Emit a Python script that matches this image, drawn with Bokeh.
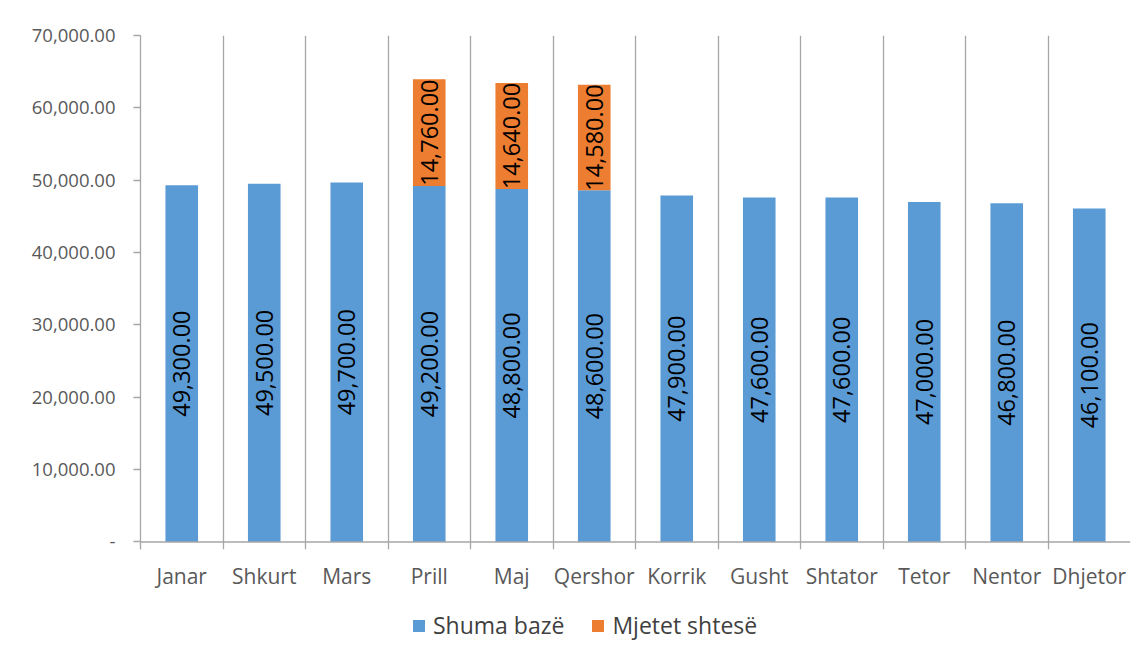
import math
from bokeh.plotting import figure
from bokeh.layouts import column
from bokeh.models import (Range1d, FixedTicker, NumeralTickFormatter, Span, Legend, LegendItem,
                          ColumnDataSource, LinearAxis, Grid)
from bokeh.core.properties import value
from bokeh.embed import file_html
from bokeh.resources import INLINE

months = ["Janar", "Shkurt", "Mars", "Prill", "Maj", "Qershor", "Korrik", "Gusht",
          "Shtator", "Tetor", "Nentor", "Dhjetor"]
shuma_baze = [49300, 49500, 49700, 49200, 48800, 48600, 47900, 47600, 47600, 47000, 46800, 46100]
mjetet_shtese = [0, 0, 0, 14760, 14640, 14580, 0, 0, 0, 0, 0, 0]
y_ticks = [0, 10000, 20000, 30000, 40000, 50000, 60000, 70000]
series_names = ["Shuma bazë", "Mjetet shtesë"]
colors = ["#5b9bd5", "#ed7d31"]

FONT = "Open Sans"
xpos = list(range(1, len(months) + 1))

p = figure(width=1140, height=600, output_backend="svg", toolbar_location=None,
           x_range=Range1d(0.5, len(months) + 0.5), y_range=Range1d(-1040, 70000),
           min_border_left=140, min_border_right=10, min_border_top=35, min_border_bottom=51,
           x_axis_type=None, y_axis_type=None)
p.outline_line_color = None
p.background_fill_color = "white"
p.border_fill_color = "white"

src = ColumnDataSource(dict(x=xpos, base=shuma_baze, extra=mjetet_shtese))

# category separators (vertical grid lines)
grid = Grid(dimension=0, ticker=FixedTicker(ticks=[i + 0.5 for i in range(len(months) + 1)]),
            grid_line_color="#a6a6a6", grid_line_width=1.3)
p.add_layout(grid, "center")

rs = p.vbar_stack(["base", "extra"], x="x", width=0.395, source=src, color=colors,
                  line_color=None)

# y axis
yax = LinearAxis(ticker=FixedTicker(ticks=y_ticks),
                 formatter=NumeralTickFormatter(format="0,0.00"))
yax.major_label_overrides = {0: "-"}
yax.axis_line_color = "#a6a6a6"
yax.axis_line_width = 1.3
yax.major_tick_line_color = "#a6a6a6"
yax.major_tick_line_width = 1.3
yax.major_tick_in = 0
yax.major_tick_out = 7
yax.minor_tick_line_color = None
yax.major_label_standoff = 18
yax.major_label_text_font = FONT
yax.major_label_text_font_size = "18.5px"
yax.major_label_text_color = "#595959"
p.add_layout(yax, "left")

# x axis (labels only)
xax = LinearAxis(ticker=FixedTicker(ticks=xpos))
xax.major_label_overrides = {i: m for i, m in zip(xpos, months)}
xax.axis_line_color = None
xax.major_tick_line_color = None
xax.minor_tick_line_color = None
xax.major_tick_in = 0
xax.major_tick_out = 0
xax.major_label_standoff = 12
xax.major_label_text_font = FONT
xax.major_label_text_font_size = "21px"
xax.major_label_text_color = "#595959"
p.add_layout(xax, "below")

p.add_layout(Span(location=0, dimension="width", line_color="#a6a6a6", line_width=1.3))

# data labels
lx, ly, lt = [], [], []
for x, b, e in zip(xpos, shuma_baze, mjetet_shtese):
    lx.append(x); ly.append(b / 2); lt.append(f"{b:,.2f}")
    if e:
        lx.append(x); ly.append(b + e / 2); lt.append(f"{e:,.2f}")
p.text(x=lx, y=ly, text=lt, angle=math.pi / 2, text_align="center", text_baseline="middle",
       text_font=value(FONT), text_font_size="23.5px", text_color="black")

# legend panel (its frame is aligned with the main frame by the column layout)
pl = figure(width=1140, height=56, output_backend="svg", toolbar_location=None,
            x_range=Range1d(0, 100), y_range=Range1d(0, 100),
            min_border=0, x_axis_type=None, y_axis_type=None)
pl.outline_line_color = None
pl.background_fill_color = "white"
pl.border_fill_color = "white"
lr = [pl.vbar(x=[-50], top=[-50], bottom=[-60], width=1, color=c, line_color=None)
      for c in colors]
legend = Legend(items=[LegendItem(label=n, renderers=[r]) for n, r in zip(series_names, lr)],
                location=(271, 15), orientation="horizontal")
legend.glyph_width = 15
legend.glyph_height = 15
legend.label_standoff = 7
legend.spacing = 26
legend.padding = 0
legend.margin = 0
legend.border_line_color = None
legend.background_fill_alpha = 0
legend.label_text_font = FONT
legend.label_text_font_size = "23px"
legend.label_text_color = "#404040"
pl.add_layout(legend, "center")

layout = column(p, pl, spacing=0)
open("out.html", "w").write(file_html(layout, INLINE))
